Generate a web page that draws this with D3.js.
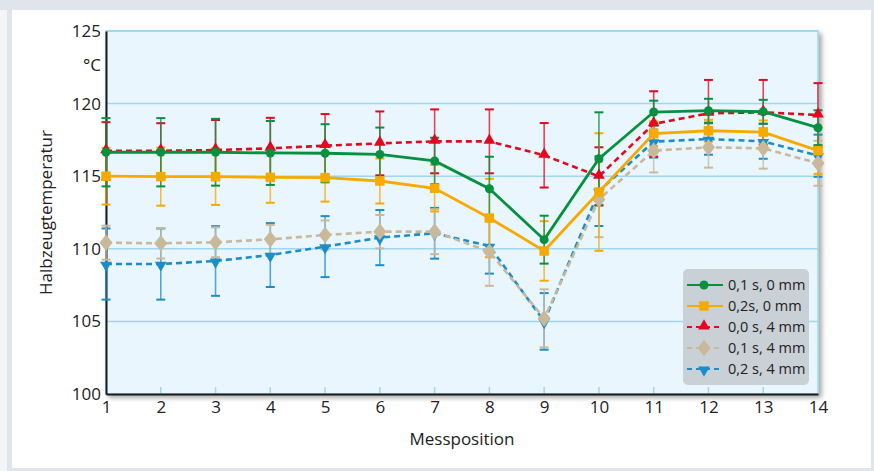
<!DOCTYPE html>
<html>
<head>
<meta charset="utf-8">
<script src="https://cdn.jsdelivr.net/npm/d3@7"></script>
<style>
  body { margin: 0; background: #fff; }
  svg { display: block; font-family: "Open Sans", "Noto Sans", sans-serif; }
</style>
</head>
<body>
<div id="chart"></div>
<script>
// data
let positions = [1, 2, 3, 4, 5, 6, 7, 8, 9, 10, 11, 12, 13, 14];
let yTicks = [100, 105, 110, 115, 120, 125];

let labels = ["0,1 s, 0 mm", "0,2s, 0 mm", "0,0 s, 4 mm", "0,1 s, 4 mm", "0,2 s, 4 mm"];

let t01s0mm = [116.65, 116.65, 116.65, 116.6, 116.58, 116.5, 116.05, 114.14, 110.63, 116.2, 119.42, 119.51, 119.44, 118.34];
let e01s0mm = [2.35, 2.35, 2.3, 2.2, 2.0, 1.85, 1.6, 2.2, 1.65, 3.2, 0.78, 0.82, 0.82, 1.2];

let t02s0mm = [115.0, 114.97, 114.97, 114.92, 114.9, 114.67, 114.17, 112.12, 109.85, 113.91, 117.93, 118.13, 118.04, 116.76];
let e02s0mm = [1.95, 2.0, 1.95, 1.75, 1.65, 1.55, 1.6, 2.7, 2.05, 4.05, 0.85, 0.75, 0.8, 1.6];

let t00s4mm = [116.74, 116.75, 116.8, 116.92, 117.1, 117.26, 117.4, 117.4, 116.44, 114.99, 118.6, 119.33, 119.4, 119.21];
let e00s4mm = [1.98, 1.9, 2.07, 2.1, 2.18, 2.2, 2.2, 2.2, 2.22, 2.0, 2.25, 2.3, 2.23, 2.2];

let t01s4mm = [110.42, 110.38, 110.45, 110.65, 110.95, 111.18, 111.18, 109.8, 105.21, 113.4, 116.76, 116.99, 116.92, 115.89];
let e01s4mm = [1.17, 1.05, 1.03, 1.0, 1.0, 1.15, 1.55, 2.35, 2.0, 2.6, 1.5, 1.4, 1.4, 1.55];

let t02s4mm = [108.95, 108.95, 109.16, 109.57, 110.15, 110.77, 111.07, 110.19, 105.0, 113.97, 117.38, 117.56, 117.4, 116.41];
let e02s4mm = [2.45, 2.45, 2.4, 2.2, 2.1, 1.9, 1.75, 1.9, 1.95, 2.4, 1.1, 1.08, 1.2, 1.45];

let width = 874;
let height = 471;

let svg = d3.select("#chart").append("svg")
  .attr("width", width)
  .attr("height", height);

// card frame
svg.append("rect").attr("x", 0).attr("y", 0).attr("width", width).attr("height", height).attr("fill", "#dfe5ea");
svg.append("rect").attr("x", 0).attr("y", 10).attr("width", 7).attr("height", height - 10).attr("fill", "#f3f5f7");
svg.append("rect").attr("x", 12).attr("y", 10).attr("width", 859).attr("height", 458).attr("fill", "#ffffff");

let defs = svg.append("defs");
let shadow = defs.append("filter").attr("id", "shadow").attr("x", "-5%").attr("y", "-5%").attr("width", "110%").attr("height", "115%");
shadow.append("feDropShadow").attr("dx", 3).attr("dy", 3).attr("stdDeviation", 2.5).attr("flood-color", "#000").attr("flood-opacity", 0.35);

let xScale = d3.scaleLinear().domain([1, 14]).range([106, 818]);
let yScale = d3.scaleLinear().domain([100, 125]).range([394, 31]);

// plot background
svg.append("rect")
  .attr("x", xScale(1))
  .attr("y", yScale(125))
  .attr("width", xScale(14) - xScale(1))
  .attr("height", yScale(100) - yScale(125))
  .attr("fill", "#eaf6fd")
  .attr("stroke", "#9fd6f0")
  .attr("stroke-width", 1.5)
  .attr("filter", "url(#shadow)");

// gridlines
svg.append("g").selectAll("line").data(yTicks.slice(1)).enter().append("line")
  .attr("x1", xScale(1)).attr("x2", xScale(14))
  .attr("y1", d => yScale(d)).attr("y2", d => yScale(d))
  .attr("stroke", "#9fd6f0").attr("stroke-width", 1.5);

// x tick marks inside
svg.append("g").selectAll("line").data(positions.slice(1, -1)).enter().append("line")
  .attr("x1", d => xScale(d)).attr("x2", d => xScale(d))
  .attr("y1", yScale(100) - 7).attr("y2", yScale(100))
  .attr("stroke", "#9fd6f0").attr("stroke-width", 1.5);

// axes
let xAxis = d3.axisBottom(xScale).tickValues(positions).tickSize(0).tickPadding(7).tickFormat(d3.format("d"));
let yAxis = d3.axisLeft(yScale).tickValues(yTicks).tickSize(0).tickPadding(5);

let gx = svg.append("g").attr("transform", "translate(0," + yScale(100) + ")").call(xAxis);
let gy = svg.append("g").attr("transform", "translate(" + xScale(1) + ",0)").call(yAxis);
[gx, gy].forEach(function(g) {
  g.select(".domain").attr("stroke", "#1a1a1a").attr("stroke-width", 2);
  g.selectAll("text").attr("font-size", 17).attr("fill", "#222").attr("font-family", "\"Open Sans\", sans-serif");
});
gy.selectAll("text").attr("dy", "0.32em");

svg.append("text").attr("x", 101).attr("y", 71).attr("text-anchor", "end")
  .attr("font-size", 17).attr("fill", "#222").text("°C");

svg.append("text")
  .attr("transform", "translate(52," + ((yScale(100) + yScale(125)) / 2) + ")rotate(-90)")
  .attr("text-anchor", "middle").attr("font-size", 17).attr("fill", "#222")
  .text("Halbzeugtemperatur");

svg.append("text").attr("x", (xScale(1) + xScale(14)) / 2).attr("y", 445)
  .attr("text-anchor", "middle").attr("font-size", 17).attr("fill", "#222")
  .text("Messposition");

// series
let series = [
  { label: labels[4], vals: t02s4mm, errs: e02s4mm, color: "#1b8dc8", dash: "6,4", sym: "down" },
  { label: labels[3], vals: t01s4mm, errs: e01s4mm, color: "#c9b99b", dash: "6,4", sym: "diamond" },
  { label: labels[2], vals: t00s4mm, errs: e00s4mm, color: "#e2081f", dash: "6,4", sym: "up" },
  { label: labels[1], vals: t02s0mm, errs: e02s0mm, color: "#f6aa00", dash: null, sym: "square" },
  { label: labels[0], vals: t01s0mm, errs: e01s0mm, color: "#07903f", dash: null, sym: "circle" }
];

function symbolPath(sym) {
  if (sym === "circle") return d3.symbol(d3.symbolCircle, 64)();
  if (sym === "square") return d3.symbol(d3.symbolSquare, 90)();
  if (sym === "up") return d3.symbol(d3.symbolTriangle, 60)();
  if (sym === "down") return d3.symbol(d3.symbolTriangle, 60)();
  return d3.symbol(d3.symbolDiamond, 80)();
}

function symbolTransform(sym, x, y) {
  if (sym === "down") return "translate(" + x + "," + (y + 1) + ")rotate(180)";
  if (sym === "diamond") return "translate(" + x + "," + y + ")scale(1.35,1)";
  if (sym === "up") return "translate(" + x + "," + (y - 1) + ")";
  return "translate(" + x + "," + y + ")";
}

let line = d3.line()
  .x(d => xScale(d.x))
  .y(d => yScale(d.v));

// error bars first
series.forEach(function(s) {
  let pts = positions.map((p, i) => ({ x: p, v: s.vals[i], e: s.errs[i] }));
  let g = svg.append("g");
  g.selectAll(".eb").data(pts).enter().append("line")
    .attr("x1", d => xScale(d.x)).attr("x2", d => xScale(d.x))
    .attr("y1", d => yScale(d.v + d.e)).attr("y2", d => yScale(d.v - d.e))
    .attr("stroke", s.color).attr("stroke-width", 1.6).attr("opacity", 0.75);
  g.selectAll(".capT").data(pts).enter().append("line")
    .attr("x1", d => xScale(d.x) - 4.5).attr("x2", d => xScale(d.x) + 4.5)
    .attr("y1", d => yScale(d.v + d.e)).attr("y2", d => yScale(d.v + d.e))
    .attr("stroke", s.color).attr("stroke-width", 2);
  g.selectAll(".capB").data(pts).enter().append("line")
    .attr("x1", d => xScale(d.x) - 4.5).attr("x2", d => xScale(d.x) + 4.5)
    .attr("y1", d => yScale(d.v - d.e)).attr("y2", d => yScale(d.v - d.e))
    .attr("stroke", s.color).attr("stroke-width", 2);
});

series.forEach(function(s) {
  let pts = positions.map((p, i) => ({ x: p, v: s.vals[i] }));
  let g = svg.append("g");
  g.append("path").datum(pts)
    .attr("d", line)
    .attr("fill", "none")
    .attr("stroke", s.color)
    .attr("stroke-width", s.dash ? 2.6 : 2.8)
    .attr("stroke-dasharray", s.dash);
  g.selectAll("path.mk").data(pts).enter().append("path")
    .attr("class", "mk")
    .attr("d", symbolPath(s.sym))
    .attr("transform", d => symbolTransform(s.sym, xScale(d.x), yScale(d.v)))
    .attr("fill", s.color);
});

// legend
let legend = svg.append("g").attr("transform", "translate(683,269)");
legend.append("rect").attr("width", 126).attr("height", 116).attr("rx", 5)
  .attr("fill", "#c9d0d6");
let legendOrder = series.slice().reverse();
legendOrder.forEach(function(s, i) {
  let ly = 16 + i * 21;
  let row = legend.append("g");
  row.append("line").attr("x1", 4).attr("x2", 40).attr("y1", ly).attr("y2", ly)
    .attr("stroke", s.color).attr("stroke-width", 2.2)
    .attr("stroke-dasharray", s.dash ? "5,4" : null);
  row.append("path").attr("d", symbolPath(s.sym))
    .attr("transform", symbolTransform(s.sym, 21, ly))
    .attr("fill", s.color);
  row.append("text").attr("x", 45).attr("y", ly).attr("dy", "0.35em")
    .attr("font-size", 14.5).attr("fill", "#222").text(s.label);
});
</script>
</body>
</html>
